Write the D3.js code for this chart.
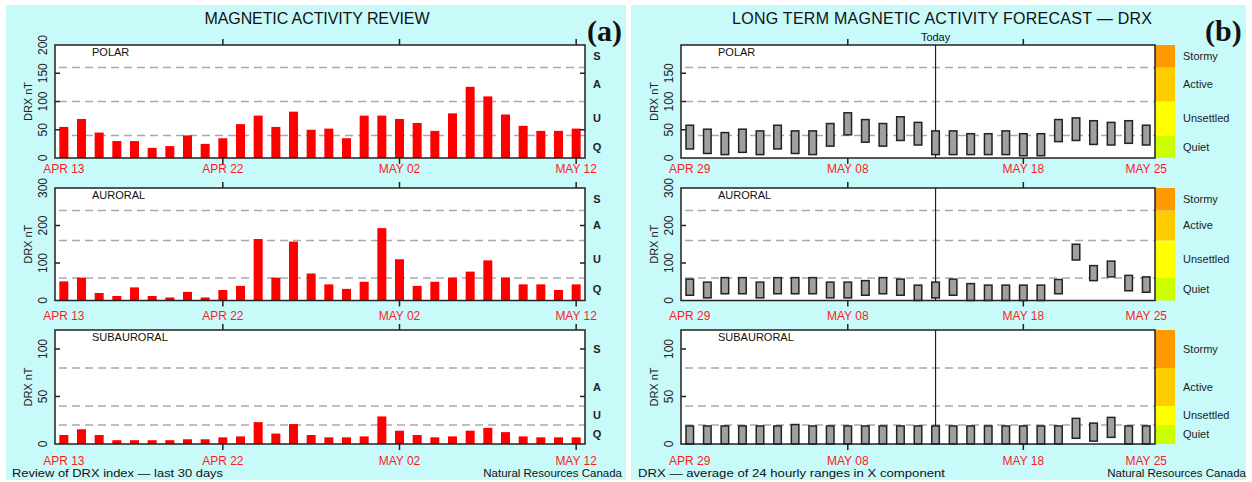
<!DOCTYPE html>
<html>
<head>
<meta charset="utf-8">
<script src="https://cdn.jsdelivr.net/npm/d3@7"></script>
<style>
  body { margin: 0; background: #fff; }
  svg { display: block; font-family: "Liberation Sans", Arial, sans-serif; }
</style>
</head>
<body>
<div id="chart"></div>
<script>
// days shown on each panel
const reviewDays = d3.timeDay.range(new Date(2015, 3, 13), new Date(2015, 4, 13));
const forecastDays = d3.timeDay.range(new Date(2015, 3, 29), new Date(2015, 4, 26));
const todayLabel = "MAY 13";

const reviewLabels = ["APR 13", "APR 22", "MAY 02", "MAY 12"];
const reviewTicks = ["APR 22", "MAY 02", "MAY 12"];
const forecastLabels = ["APR 29", "MAY 08", "MAY 18", "MAY 25"];
const forecastTicks = ["MAY 08", "MAY 18"];

// review (last 30 days), nT
const reviewPolar = [55, 69, 45, 30, 30, 18, 21, 40, 25, 35, 60, 75, 55, 82, 50,
  52, 35, 75, 75, 69, 62, 48, 79, 126, 109, 77, 57, 48, 48, 52];
const reviewAuroral = [51, 61, 20, 12, 35, 12, 8, 23, 8, 28, 39, 164, 61, 157, 72,
  43, 31, 50, 193, 110, 39, 50, 61, 77, 107, 61, 43, 43, 28, 43];
const reviewSubauroral = [9.5, 15.5, 9.5, 4, 4, 4, 4, 5, 5, 7, 8, 23, 11, 21, 9.5,
  7, 7, 8, 29, 14, 9.5, 7, 8, 14, 17, 12.5, 8, 7, 7, 7];

// forecast ranges (low / high), nT
const forecastPolarLow = [16, 8, 6, 10, 6, 16, 8, 6, 21, 41, 28, 21, 31, 23, 6,
  6, 6, 6, 6, 4, 4, 29, 31, 24, 23, 26, 23];
const forecastPolarHigh = [58, 51, 45, 51, 48, 58, 48, 48, 61, 80, 68, 61, 73, 63, 48,
  48, 43, 43, 48, 43, 43, 68, 71, 66, 63, 66, 58];
const forecastAuroralLow = [14, 7, 18, 18, 7, 18, 18, 18, 7, 7, 14, 18, 14, 0, 7,
  14, 0, 0, 0, 0, 0, 18, 108, 53, 63, 26, 22];
const forecastAuroralHigh = [57, 49, 61, 61, 49, 61, 61, 61, 49, 49, 53, 61, 57, 41, 49,
  57, 45, 41, 41, 41, 41, 56, 150, 93, 105, 67, 63];
const forecastSubauroralLow = [0, 0, 0, 0, 0, 0, 0, 0, 0, 0, 0, 0, 0, 0, 0,
  0, 0, 0, 0, 0, 0, 0, 6, 3, 7, 0, 0];
const forecastSubauroralHigh = [19, 19, 19, 19, 19, 19, 20.5, 19, 19, 19, 19, 19, 19, 19, 19,
  19, 19, 19, 19, 19, 19, 19, 27, 22, 28, 19, 19];

const zoneNames = ["POLAR", "AURORAL", "SUBAURORAL"];
const zoneMax = [200, 300, 120];
const levelBreaks = [[40, 100, 160], [60, 160, 240], [20, 40, 80]];
const reviewYTicks = [[0, 50, 100, 150, 200], [0, 100, 200, 300], [0, 50, 100]];
const forecastYTicks = [[0, 50, 100, 150], [0, 100, 200, 300], [0, 50, 100]];
const rightTicks = [[50, 150], [100, 200], [50, 100]];
const levelNames = ["Quiet", "Unsettled", "Active", "Stormy"];
const levelLetters = ["Q", "U", "A", "S"];
const levelColors = ["#ccff00", "#ffff00", "#ffcc00", "#ff9900"];

const reviewValues = [reviewPolar, reviewAuroral, reviewSubauroral];
const forecastLow = [forecastPolarLow, forecastAuroralLow, forecastSubauroralLow];
const forecastHigh = [forecastPolarHigh, forecastAuroralHigh, forecastSubauroralHigh];

const W = 1252, H = 482;
const rows = [[45, 158], [188, 300.5], [330, 444]];
const labelDrop = [15, 19, 21];
const fmt = d => d3.timeFormat("%b %d")(d).toUpperCase();

const svg = d3.select("#chart").append("svg")
  .attr("width", W).attr("height", H);

svg.append("rect").attr("x", 6).attr("y", 5).attr("width", 620).attr("height", 475).attr("fill", "#c8fafa");
svg.append("rect").attr("x", 631).attr("y", 5).attr("width", 615).attr("height", 475).attr("fill", "#c8fafa");

function drawPanel(opts) {
  const x = d3.scaleBand()
    .domain(opts.days.map(fmt))
    .range([opts.left, opts.right])
    .paddingInner(opts.pad).paddingOuter(opts.pad / 2);

  rows.forEach((r, i) => {
    const y = d3.scaleLinear().domain([0, zoneMax[i]]).range([r[1], r[0]]);
    const g = svg.append("g");

    g.append("rect")
      .attr("x", opts.left).attr("y", r[0])
      .attr("width", opts.right - opts.left).attr("height", r[1] - r[0])
      .attr("fill", "#fff");

    g.selectAll(".grid")
      .data(levelBreaks[i])
      .join("line")
      .attr("x1", opts.left + 4).attr("x2", opts.right)
      .attr("y1", d => y(d)).attr("y2", d => y(d))
      .attr("stroke", "#aaa").attr("stroke-width", 1.5)
      .attr("stroke-dasharray", "8,5");

    const bounds = [0].concat(levelBreaks[i], [zoneMax[i]]);

    if (opts.kind === "review") {
      g.selectAll(".bar")
        .data(reviewValues[i])
        .join("rect")
        .attr("x", (d, k) => x(fmt(opts.days[k])))
        .attr("width", x.bandwidth())
        .attr("y", d => y(d))
        .attr("height", d => y(0) - y(d))
        .attr("fill", "#ff0000");

      g.selectAll(".rt")
        .data(rightTicks[i])
        .join("line")
        .attr("x1", opts.right - 5).attr("x2", opts.right)
        .attr("y1", d => y(d)).attr("y2", d => y(d))
        .attr("stroke", "#222").attr("stroke-width", 1.5);

      g.selectAll(".lvl")
        .data(levelLetters)
        .join("text")
        .attr("x", opts.right + 12)
        .attr("y", (d, k) => y((bounds[k] + bounds[k + 1]) / 2))
        .attr("dy", "0.35em")
        .attr("text-anchor", "middle")
        .attr("font-size", 11).attr("font-weight", "bold")
        .attr("fill", "#222")
        .text(d => d);
    } else {
      const low = forecastLow[i], high = forecastHigh[i];
      g.selectAll(".band")
        .data(levelColors)
        .join("rect")
        .attr("x", opts.right).attr("width", 20)
        .attr("y", (d, k) => y(bounds[k + 1]))
        .attr("height", (d, k) => y(bounds[k]) - y(bounds[k + 1]))
        .attr("fill", d => d);

      g.selectAll(".lvl")
        .data(levelNames)
        .join("text")
        .attr("x", opts.right + 28)
        .attr("y", (d, k) => y((bounds[k] + bounds[k + 1]) / 2))
        .attr("dy", "0.35em")
        .attr("font-size", 11)
        .attr("fill", "#222")
        .text(d => d);

      const tx = x(todayLabel) + x.bandwidth() / 2;
      g.append("line")
        .attr("x1", tx).attr("x2", tx)
        .attr("y1", r[0]).attr("y2", r[1])
        .attr("stroke", "#222").attr("stroke-width", 1.2);

      g.selectAll(".bar")
        .data(high)
        .join("rect")
        .attr("x", (d, k) => x(fmt(opts.days[k])))
        .attr("width", x.bandwidth())
        .attr("y", d => y(d))
        .attr("height", (d, k) => y(low[k]) - y(d))
        .attr("fill", "#a0a0a0")
        .attr("stroke", "#222").attr("stroke-width", 1.5);
    }

    // frame
    g.append("rect")
      .attr("x", opts.left).attr("y", r[0])
      .attr("width", opts.right - opts.left).attr("height", r[1] - r[0])
      .attr("fill", "none").attr("stroke", "#222").attr("stroke-width", 1.5);

    // left ticks, rotated labels
    const yt = opts.yTicks[i];
    g.selectAll(".lt")
      .data(yt.filter(v => v > 0 && v < zoneMax[i]))
      .join("line")
      .attr("x1", opts.left).attr("x2", opts.left + 5)
      .attr("y1", d => y(d)).attr("y2", d => y(d))
      .attr("stroke", "#222").attr("stroke-width", 1.5);

    g.selectAll(".yl")
      .data(yt)
      .join("text")
      .attr("transform", d => `translate(${opts.left - 8},${y(d)}) rotate(-90)`)
      .attr("text-anchor", "middle")
      .attr("font-size", 12)
      .attr("fill", "#222")
      .text(d => d);

    g.append("text")
      .attr("transform", `translate(${opts.left - 23},${(r[0] + r[1]) / 2}) rotate(-90)`)
      .attr("text-anchor", "middle")
      .attr("font-size", 11)
      .attr("fill", "#222")
      .text("DRX nT");

    g.append("text")
      .attr("x", opts.left + 37).attr("y", r[0] + 11)
      .attr("font-size", 11)
      .attr("fill", "#111")
      .text(zoneNames[i]);

    // date ticks top and bottom
    const cx = d => x(d) + x.bandwidth() / 2;
    g.selectAll(".xt")
      .data(opts.ticks)
      .join("path")
      .attr("d", d => `M${cx(d)},${r[0] - 6}V${r[0]}M${cx(d)},${r[1]}V${r[1] + 6}`)
      .attr("stroke", "#222").attr("stroke-width", 1.5);

    g.selectAll(".xl")
      .data(opts.labels)
      .join("text")
      .attr("x", cx)
      .attr("y", r[1] + labelDrop[i])
      .attr("text-anchor", "middle")
      .attr("font-size", 12)
      .attr("fill", "#ff1a1a")
      .text(d => d);
  });

  svg.append("text")
    .attr("x", opts.titleX).attr("y", 24)
    .attr("text-anchor", "middle")
    .attr("font-size", 16)
    .attr("textLength", opts.titleLen).attr("lengthAdjust", "spacing")
    .attr("fill", "#111")
    .text(opts.title);

  svg.append("text")
    .attr("x", opts.tagX).attr("y", 41)
    .attr("font-family", "Liberation Serif, Times New Roman, serif")
    .attr("font-weight", "bold")
    .attr("font-size", 30)
    .attr("fill", "#111")
    .text(opts.tag);

  svg.append("text")
    .attr("x", opts.footX).attr("y", 477)
    .attr("font-size", 11.5)
    .attr("textLength", opts.footLen).attr("lengthAdjust", "spacingAndGlyphs")
    .attr("fill", "#111")
    .text(opts.foot);

  svg.append("text")
    .attr("x", opts.creditX).attr("y", 477)
    .attr("text-anchor", "end")
    .attr("font-size", 11.5)
    .attr("fill", "#111")
    .text("Natural Resources Canada");
}

drawPanel({
  kind: "review", days: reviewDays, left: 55, right: 585, pad: 0.49,
  yTicks: reviewYTicks, labels: reviewLabels, ticks: reviewTicks,
  title: "MAGNETIC ACTIVITY REVIEW", titleX: 317, titleLen: 225,
  tag: "(a)", tagX: 587,
  foot: "Review of DRX index \u2014 last 30 days", footX: 12, footLen: 211,
  creditX: 622
});

drawPanel({
  kind: "forecast", days: forecastDays, left: 681, right: 1155, pad: 0.57,
  yTicks: forecastYTicks, labels: forecastLabels, ticks: forecastTicks,
  title: "LONG TERM MAGNETIC ACTIVITY FORECAST \u2014 DRX", titleX: 942, titleLen: 420,
  tag: "(b)", tagX: 1205,
  foot: "DRX \u2014 average of 24 hourly ranges in X component", footX: 638, footLen: 307,
  creditX: 1246
});

// "Today" marker label
const fx = d3.scaleBand().domain(forecastDays.map(fmt)).range([681, 1155])
  .paddingInner(0.57).paddingOuter(0.285);
svg.append("text")
  .attr("x", fx(todayLabel) + fx.bandwidth() / 2).attr("y", 41)
  .attr("text-anchor", "middle")
  .attr("font-size", 11)
  .attr("fill", "#111")
  .text("Today");
</script>
</body>
</html>
